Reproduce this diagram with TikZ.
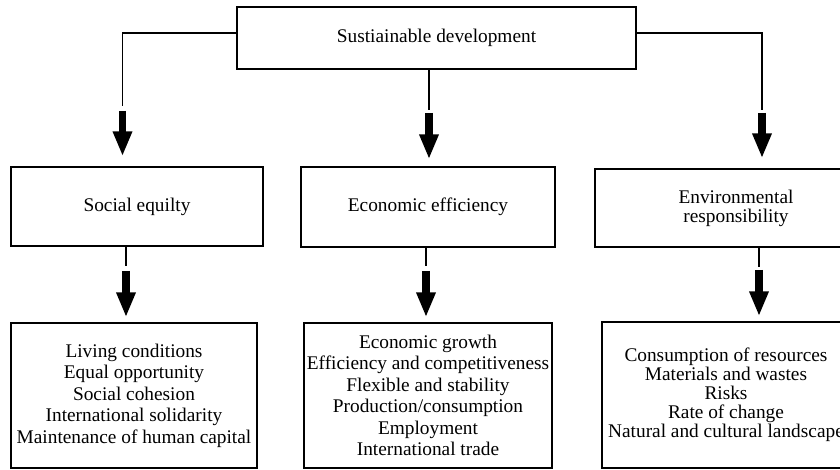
\documentclass[tikz,border=0pt]{standalone}
\usepackage{fontspec}
\setmainfont{Liberation Serif}
\usetikzlibrary{arrows.meta}
\begin{document}
\begin{tikzpicture}[
  x=0.75pt, y=-0.75pt,
  box/.style={draw, line width=1.1pt, rectangle, inner sep=0pt, align=center,
    font=\fontsize{14.5}{16.1}\selectfont},
  tightbox/.style={box, font=\fontsize{14.5}{14.3}\selectfont},
  link/.style={line width=1.1pt},
  blockarrow/.style={line width=5.6pt, -{Triangle[length=18.75pt, width=13.5pt]}}
]
\useasboundingbox (0,0) rectangle (840,470);

% root
\node[box, minimum width={399*0.75pt}, minimum height={62*0.75pt}] (root) at (436.5,38)
  {Sustiainable development};

% three pillars
\node[box, minimum width={252*0.75pt}, minimum height={79*0.75pt}] (soc) at (137,206.5)
  {Social equilty};
\node[box, minimum width={254*0.75pt}, minimum height={80*0.75pt}] (eco) at (428,207)
  {Economic efficiency};
\node[tightbox, minimum width={282*0.75pt}, minimum height={78*0.75pt}] (env) at (736,208)
  {Environmental\\responsibility};

% indicator lists
\node[box, minimum width={246*0.75pt}, minimum height={145*0.75pt}] (socL) at (134,395.5)
  {Living conditions\\Equal opportunity\\Social cohesion\\International solidarity\\Maintenance of human capital};
\node[box, minimum width={248*0.75pt}, minimum height={145*0.75pt}] (ecoL) at (428,395.5)
  {Economic growth\\Efficiency and competitiveness\\Flexible and stability\\Production/consumption\\Employment\\International trade};
\node[tightbox, minimum width={248*0.75pt}, minimum height={146*0.75pt}] (envL) at (726,395)
  {Consumption of resources\\Materials and wastes\\Risks\\Rate of change\\Natural and cultural landscape};

% connector break points
\coordinate (l1) at (122.5,106);
\coordinate (l2) at (122.5,111);
\coordinate (c1) at (429,110);
\coordinate (c2) at (429,113);
\coordinate (r1) at (762,110);
\coordinate (r2) at (762,113);
\coordinate (s1) at (126,266);
\coordinate (s2) at (126,271);
\coordinate (e1) at (426,266);
\coordinate (e2) at (426,271);
\coordinate (v1) at (759,267);
\coordinate (v2) at (759,270);

% root to pillars
\draw[link] (root.west |- 0,33) -| (l1);
\draw[blockarrow, shorten >=10*0.75pt] (l2) -- (l2 |- soc.north);
\draw[link] (root.south -| c1) -- (c1);
\draw[blockarrow, shorten >=7*0.75pt] (c2) -- (c2 |- eco.north);
\draw[link] (root.east |- 0,33) -| (r1);
\draw[blockarrow, shorten >=10*0.75pt] (r2) -- (r2 |- env.north);

% pillars to lists
\draw[link] (soc.south -| s1) -- (s1);
\draw[blockarrow, shorten >=5*0.75pt] (s2) -- (s2 |- socL.north);
\draw[link] (eco.south -| e1) -- (e1);
\draw[blockarrow, shorten >=5*0.75pt] (e2) -- (e2 |- ecoL.north);
\draw[link] (env.south -| v1) -- (v1);
\draw[blockarrow, shorten >=5*0.75pt] (v2) -- (v2 |- envL.north);
\end{tikzpicture}
\end{document}
